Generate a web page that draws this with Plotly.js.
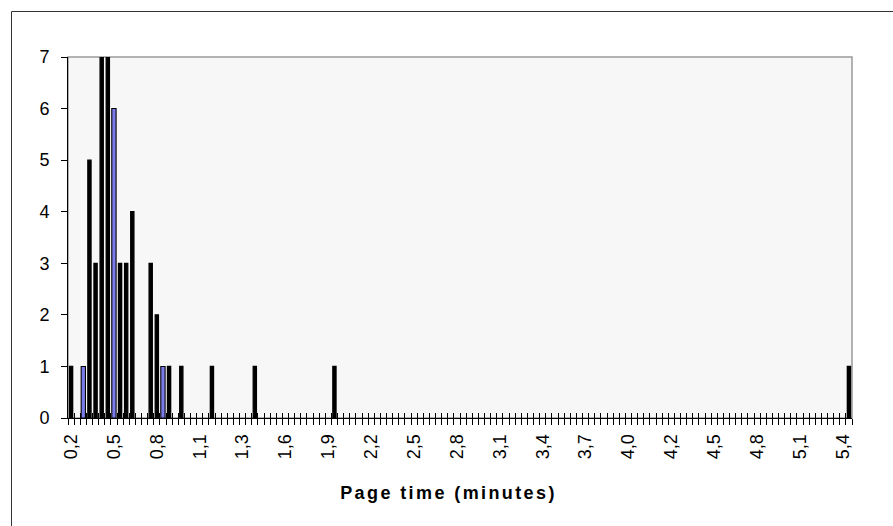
<!DOCTYPE html>
<html>
<head>
<meta charset="utf-8">
<script src="https://cdn.plot.ly/plotly-3.0.1.min.js"></script>
<style>
  html, body { margin: 0; padding: 0; background: #ffffff; }
  #chart { width: 893px; height: 526px; }
  .xtitle-ann text { letter-spacing: 2.4px; }
</style>
</head>
<body>
<div id="chart"></div>
<script>
// Histogram of page times: category index of each non-empty bin and its count
const binIndex = [0, 2, 3, 4, 5, 6, 7, 8, 9, 10, 13, 14, 15, 16, 18, 23, 30, 43, 127];
const counts   = [1, 1, 5, 3, 7, 7, 6, 3, 3, 4, 3, 2, 1, 1, 1, 1, 1, 1, 1];
const highlighted = [2, 7, 15];   // bins drawn with the blue fill
const nBins = 128;                // number of categories on the axis

// Category-axis labels (every 7th category)
const tickLabels = ['0,2','0,5','0,8','1,1','1,3','1,6','1,9','2,2','2,5','2,8',
                    '3,1','3,4','3,7','4,0','4,2','4,5','4,8','5,1','5,4'];
const tickIndex  = [0, 7, 14, 21, 28, 35, 42, 49, 56, 63, 70, 77, 84, 91, 98, 105, 112, 119, 126];
const xTitle = 'Page time (minutes)';

const W = 893, H = 526;
const M = { l: 68, r: 41, t: 57, b: 108 };
const pw = W - M.l - M.r, ph = H - M.t - M.b;
const px2x = p => (p - M.l) / pw;
const py2y = p => (H - M.b - p) / ph;

const isHi = binIndex.map(i => highlighted.includes(i));
const barColors = isHi.map(h => h ? '#7B7BEB' : '#000000');
const barWidths = isHi.map(h => h ? 0.7 : 0.52);
const lineWidths = isHi.map(h => h ? 1.1 : 1.3);

const font = 'Arial, "Liberation Sans", sans-serif';

const traces = [
  {
    type: 'bar',
    x: binIndex,
    y: counts,
    width: barWidths,
    marker: { color: barColors, line: { color: '#000000', width: lineWidths } },
    hoverinfo: 'x+y',
    showlegend: false
  },
  { type: 'scatter', x: [], y: [], xaxis: 'x2', yaxis: 'y', showlegend: false, hoverinfo: 'skip' }
];

const layout = {
  width: W, height: H,
  margin: M,
  paper_bgcolor: '#ffffff',
  plot_bgcolor: '#F7F7F7',
  font: { family: font, size: 18, color: '#000000' },
  xaxis: {
    range: [-0.5, nBins - 0.5],
    tickmode: 'array', tickvals: tickIndex, ticktext: tickLabels,
    tickangle: -90,
    ticks: '',
    ticklabelstandoff: 8,
    tickfont: { family: font, size: 18, color: '#000' },
    minor: { ticks: 'outside', ticklen: 6, tickwidth: 1, tickcolor: '#000', tickmode: 'linear', tick0: -0.5, dtick: 1, showgrid: false },
    showline: true, linecolor: '#000000', linewidth: 1,
    showgrid: false, zeroline: false
  },
  xaxis2: {
    overlaying: 'x', anchor: 'y', side: 'bottom',
    range: [-0.5, nBins - 0.5],
    tickmode: 'linear', tick0: -0.5, dtick: 1,
    ticks: 'inside', ticklen: 5, tickwidth: 1, tickcolor: '#000',
    showticklabels: false, showline: false, showgrid: false, zeroline: false
  },
  yaxis: {
    range: [0, 7], tickmode: 'linear', tick0: 0, dtick: 1,
    ticks: 'outside', ticklen: 6, tickwidth: 1, tickcolor: '#000',
    ticklabelstandoff: 8,
    tickfont: { family: font, size: 18, color: '#000' },
    showline: true, linecolor: '#000000', linewidth: 1,
    showgrid: false, zeroline: false
  },
  annotations: [
    { text: '<b>' + xTitle + '</b>', xref: 'paper', yref: 'paper',
      x: px2x(448), y: py2y(493), xanchor: 'center', yanchor: 'middle',
      showarrow: false, font: { family: font, size: 18, color: '#000' } }
  ],
  shapes: [
    { type: 'rect', xref: 'paper', yref: 'paper', x0: 0, x1: 1, y0: 0, y1: 1,
      line: { color: '#9A9A9A', width: 1.5 }, layer: 'below' },
    { type: 'rect', xref: 'paper', yref: 'paper',
      x0: px2x(11.5), x1: px2x(W + 20), y0: py2y(11.5), y1: py2y(H + 20),
      line: { color: '#333333', width: 1 }, fillcolor: 'rgba(0,0,0,0)', layer: 'below' }
  ]
};

Plotly.newPlot('chart', traces, layout, { staticPlot: true, displayModeBar: false }).then(() => {
  document.querySelectorAll('.annotation-text-g').forEach(g => g.classList.add('xtitle-ann'));
});
</script>
</body>
</html>
